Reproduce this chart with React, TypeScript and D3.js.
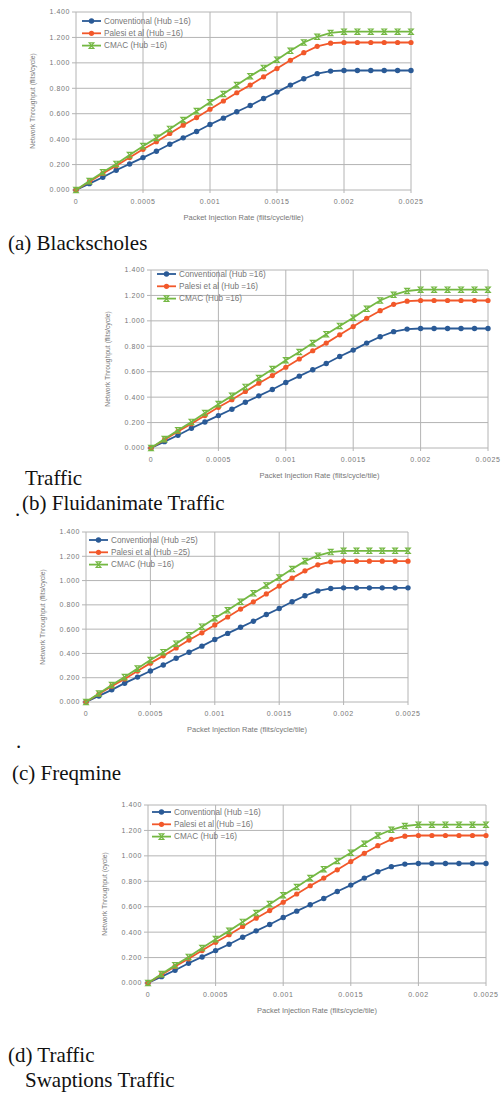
import React, { useEffect, useRef } from 'react';
import * as d3 from 'd3';

const injectionRates = [
  0, 0.0001, 0.0002, 0.0003, 0.0004, 0.0005, 0.0006, 0.0007, 0.0008, 0.0009,
  0.001, 0.0011, 0.0012, 0.0013, 0.0014, 0.0015, 0.0016, 0.0017, 0.0018, 0.0019,
  0.002, 0.0021, 0.0022, 0.0023, 0.0024, 0.0025,
];
const conventional = [
  0, 0.05, 0.1, 0.155, 0.205, 0.255, 0.305, 0.36, 0.41, 0.46,
  0.515, 0.565, 0.615, 0.665, 0.72, 0.77, 0.825, 0.875, 0.915, 0.935,
  0.94, 0.94, 0.94, 0.94, 0.94, 0.94,
];
const palesi = [
  0, 0.065, 0.13, 0.19, 0.255, 0.32, 0.38, 0.445, 0.51, 0.57,
  0.635, 0.7, 0.765, 0.825, 0.89, 0.955, 1.02, 1.08, 1.13, 1.155,
  1.16, 1.16, 1.16, 1.16, 1.16, 1.16,
];
const cmac = [
  0, 0.07, 0.14, 0.205, 0.275, 0.345, 0.41, 0.48, 0.55, 0.62,
  0.69, 0.755, 0.825, 0.895, 0.96, 1.025, 1.095, 1.16, 1.205, 1.235,
  1.245, 1.245, 1.245, 1.245, 1.245, 1.245,
];
const seriesNames = ['Conventional', 'Palesi et al', 'CMAC'];
const yTicks = [0, 0.2, 0.4, 0.6, 0.8, 1.0, 1.2, 1.4];
const xTicks = [0, 0.0005, 0.001, 0.0015, 0.002, 0.0025];
const xTickLabels = ['0', '0.0005', '0.001', '0.0015', '0.002', '0.0025'];
const xTitle = 'Packet Injection Rate (flits/cycle/tile)';

const colors = ['#2a5a96', '#f2582a', '#74b843'];
const series = [conventional, palesi, cmac];

const panels = [
  { left: 76, right: 411, top: 12, bottom: 190, legDx: 6, legDy: 9, hubs: ['16', '16', '16'], yTitle: 'Network Throughput (flits/cycle)' },
  { left: 151, right: 488, top: 270, bottom: 448, legDx: 6, legDy: 4, hubs: ['16', '16', '16'], yTitle: 'Network Throughput (flits/cycle)' },
  { left: 86, right: 408, top: 532, bottom: 702, legDx: 3, legDy: 8, hubs: ['25', '25', '16'], yTitle: 'Network Throughput (flits/cycle)' },
  { left: 148, right: 486, top: 805, bottom: 983, legDx: 4, legDy: 7, hubs: ['16', '16', '16'], yTitle: 'Network Throughput (cycle)' },
];

const captions = [
  { text: '(a) Blackscholes', x: 8, y: 250 },
  { text: 'Traffic', x: 25, y: 485 },
  { text: '(b) Fluidanimate Traffic', x: 22, y: 510 },
  { text: '.', x: 15, y: 516 },
  { text: '.', x: 16, y: 748 },
  { text: '(c) Freqmine', x: 12, y: 780 },
  { text: '(d) Traffic', x: 8, y: 1062 },
  { text: 'Swaptions Traffic', x: 25, y: 1087 },
];

const sans = 'Liberation Sans, sans-serif';

function drawMarker(g: any, kind: number, x: number, y: number, color: string) {
  if (kind === 2) {
    g.append('path')
      .attr('d', `M${x - 2.3},${y - 2.7}L${x + 2.3},${y - 2.7}L${x - 2.3},${y + 2.7}L${x + 2.3},${y + 2.7}Z`)
      .attr('fill', 'none')
      .attr('stroke', color)
      .attr('stroke-width', 1.2);
  } else {
    g.append('circle')
      .attr('cx', x)
      .attr('cy', y)
      .attr('r', kind === 0 ? 2.7 : 2.6)
      .attr('fill', color);
  }
}

export default function App() {
  const svgRef = useRef<SVGSVGElement>(null);

  useEffect(() => {
    const svg = d3.select(svgRef.current);
    svg.selectAll('*').remove();
    svg.append('rect').attr('width', 501).attr('height', 1095).attr('fill', '#fff');

    panels.forEach((p) => {
      const g = svg.append('g');
      const x = d3.scaleLinear().domain([0, 0.0025]).range([p.left, p.right]);
      const y = d3.scaleLinear().domain([0, 1.4]).range([p.bottom, p.top]);

      // grid + tick labels
      yTicks.forEach((t) => {
        g.append('line')
          .attr('x1', p.left - 4).attr('x2', p.right)
          .attr('y1', y(t)).attr('y2', y(t))
          .attr('stroke', '#b4b4b4').attr('stroke-width', 1);
        g.append('text')
          .attr('x', p.left - 6).attr('y', y(t) + 2.4)
          .attr('text-anchor', 'end')
          .attr('font-size', 7)
          .attr('letter-spacing', 0.6)
          .attr('font-family', sans)
          .attr('fill', '#777')
          .text(d3.format('.3f')(t));
      });
      xTicks.forEach((t, i) => {
        g.append('line')
          .attr('x1', x(t)).attr('x2', x(t))
          .attr('y1', p.top).attr('y2', p.bottom + 3)
          .attr('stroke', '#b4b4b4').attr('stroke-width', 1);
        g.append('text')
          .attr('x', x(t)).attr('y', p.bottom + 14)
          .attr('text-anchor', 'middle')
          .attr('font-size', 7)
          .attr('letter-spacing', 0.6)
          .attr('font-family', sans)
          .attr('fill', '#777')
          .text(xTickLabels[i]);
      });

      g.append('text')
        .attr('x', (p.left + p.right) / 2).attr('y', p.bottom + 30)
        .attr('text-anchor', 'middle')
        .attr('font-size', 7.5)
        .attr('font-family', sans)
        .attr('fill', '#777')
        .text(xTitle);
      g.append('text')
        .attr('transform', `translate(${p.left - 41},${(p.top + p.bottom) / 2}) rotate(-90)`)
        .attr('text-anchor', 'middle')
        .attr('font-size', 6.8)
        .attr('font-family', sans)
        .attr('fill', '#777')
        .text(p.yTitle);

      // series
      const lineGen = d3.line<number>()
        .x((d, i) => x(injectionRates[i]))
        .y((d) => y(d));
      series.forEach((s, k) => {
        g.append('path')
          .attr('d', lineGen(s))
          .attr('fill', 'none')
          .attr('stroke', colors[k])
          .attr('stroke-width', 1.8);
        s.forEach((v, i) => drawMarker(g, k, x(injectionRates[i]), y(v), colors[k]));
      });

      // legend
      seriesNames.forEach((name, k) => {
        const ly = p.top + p.legDy + k * 12.3;
        const lx = p.left + p.legDx;
        g.append('line')
          .attr('x1', lx).attr('x2', lx + 19)
          .attr('y1', ly).attr('y2', ly)
          .attr('stroke', colors[k]).attr('stroke-width', 1.8);
        drawMarker(g, k, lx + 9.5, ly, colors[k]);
        g.append('text')
          .attr('x', lx + 22).attr('y', ly + 2.8)
          .attr('font-size', 8.2)
          .attr('font-family', sans)
          .attr('fill', '#777')
          .text(`${name} (Hub =${p.hubs[k]})`);
      });
    });

    captions.forEach((c) => {
      svg.append('text')
        .attr('x', c.x).attr('y', c.y)
        .attr('font-size', 21)
        .attr('font-family', 'Liberation Serif, serif')
        .attr('fill', '#111')
        .text(c.text);
    });
  }, []);

  return (
    <React.Fragment>
      <svg
        ref={svgRef}
        width={501}
        height={1095}
        style={{ position: 'absolute', left: 0, top: 0 }}
      ></svg>
    </React.Fragment>
  );
}
